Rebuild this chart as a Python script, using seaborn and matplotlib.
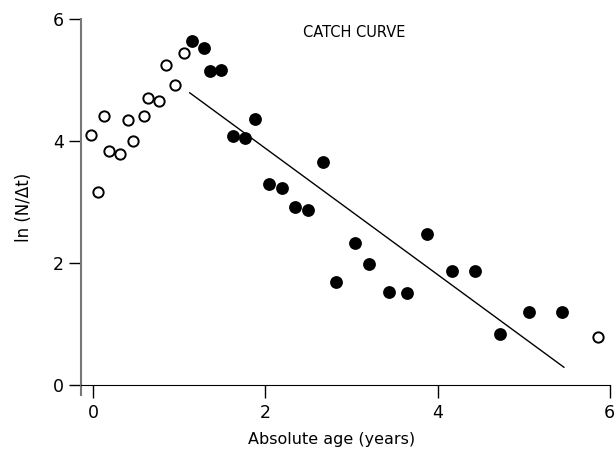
import matplotlib
matplotlib.use("Agg")
import matplotlib.pyplot as plt
import seaborn as sns

# chart style
sns.set_style("white")
plt.rcParams['font.family'] = ['DejaVu Sans']
plt.rcParams['text.color'] = 'black'
plt.rcParams['axes.labelcolor'] = 'black'
plt.rcParams['xtick.color'] = 'black'
plt.rcParams['ytick.color'] = 'black'

# open circles (not used in the fit)
open_age = [-0.02, 0.06, 0.125, 0.19, 0.31, 0.40, 0.46, 0.59, 0.64, 0.77,
            0.85, 0.95, 1.06, 5.86]
open_ln = [4.10, 3.16, 4.40, 3.84, 3.78, 4.35, 3.99, 4.41, 4.70, 4.66,
           5.24, 4.92, 5.44, 0.78]

# filled circles (used in the fit)
fill_age = [1.15, 1.29, 1.355, 1.49, 1.62, 1.77, 1.88, 2.04, 2.19, 2.34,
            2.50, 2.67, 2.82, 3.04, 3.21, 3.44, 3.65, 3.88, 4.17, 4.44,
            4.73, 5.06, 5.45]
fill_ln = [5.64, 5.52, 5.15, 5.16, 4.08, 4.04, 4.36, 3.30, 3.22, 2.91,
           2.87, 3.66, 1.68, 2.32, 1.98, 1.52, 1.51, 2.48, 1.87, 1.87,
           0.84, 1.19, 1.19]

# regression line ends
fit_age = [1.12, 5.47]
fit_ln = [4.79, 0.285]

fig = plt.figure(figsize=(6.14, 4.5), dpi=100)
ax = fig.add_axes([0.132, 0.122, 0.861, 0.836])

sns.scatterplot(x=open_age, y=open_ln, ax=ax, s=55, marker='o',
                facecolor='white', edgecolor='black', linewidth=1.4)
sns.scatterplot(x=fill_age, y=fill_ln, ax=ax, s=85, marker='o',
                color='black', edgecolor='black', linewidth=0)
sns.lineplot(x=fit_age, y=fit_ln, ax=ax, color='black', linewidth=1)

ax.set_xlim(-0.14, 6)
ax.set_ylim(-0.17, 6)
ax.set_xticks([0, 2, 4, 6])
ax.set_yticks([0, 2, 4, 6])

ax.spines['top'].set_visible(False)
ax.spines['right'].set_visible(False)
ax.spines['bottom'].set_position(('data', 0))
ax.spines['bottom'].set_color('black')
ax.spines['left'].set_color('#777777')
ax.spines['left'].set_linewidth(1.5)
ax.spines['left'].set_bounds(-0.17, 6)

ax.tick_params(axis='both', direction='out', length=9, width=1,
               color='black', labelsize=12.5, bottom=True, left=True)
ax.tick_params(axis='x', pad=5)

ax.set_xlabel("Absolute age (years)", fontsize=11.5)
ax.set_ylabel("ln (N/\u0394t)", fontsize=12)
ax.xaxis.set_label_coords(0.473, -0.098)
ax.yaxis.set_label_coords(-0.09, 0.5)

ax.text(3.03, 5.78, "CATCH CURVE", fontsize=10.5, ha='center', va='center')

plt.savefig("out.png", dpi=100)
